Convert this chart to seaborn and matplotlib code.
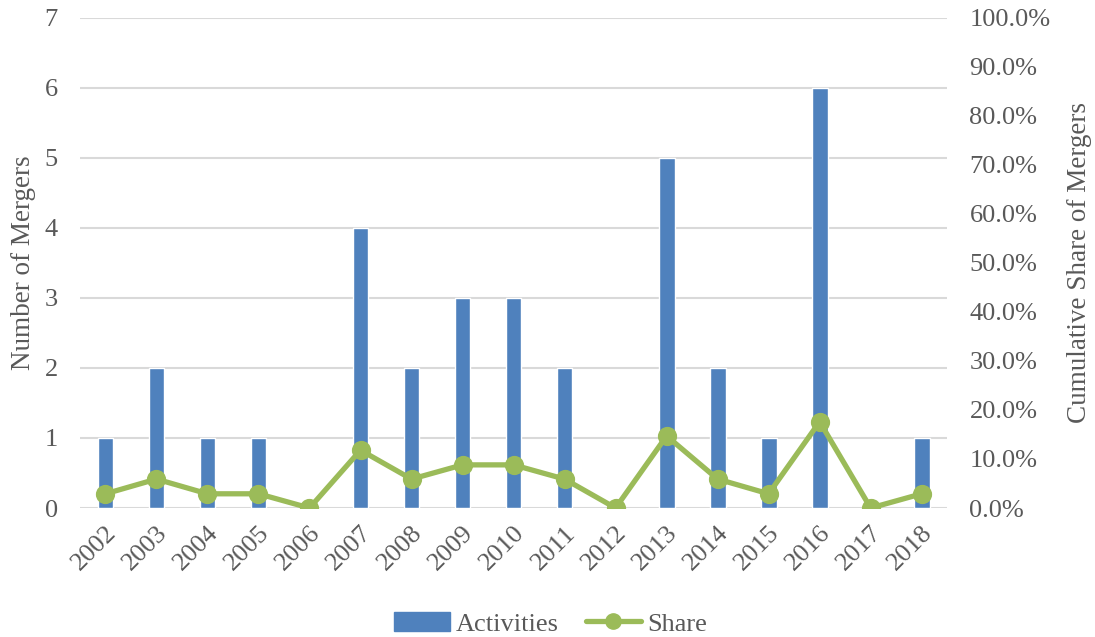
import matplotlib
matplotlib.use("Agg")
import matplotlib.pyplot as plt
import seaborn as sns
from matplotlib.patches import Patch
from matplotlib.lines import Line2D
from matplotlib.ticker import FuncFormatter

# data
years = ["2002", "2003", "2004", "2005", "2006", "2007", "2008", "2009", "2010",
         "2011", "2012", "2013", "2014", "2015", "2016", "2017", "2018"]
activities = [1, 2, 1, 1, 0, 4, 2, 3, 3, 2, 0, 5, 2, 1, 6, 0, 1]
share_pct = [2.9, 5.9, 2.9, 2.9, 0.0, 11.8, 5.9, 8.8, 8.8, 5.9, 0.0, 14.7, 5.9, 2.9, 17.6, 0.0, 2.9]

bar_col = "#4F81BD"
line_col = "#9BBB59"
txt_col = "#595959"

sns.set_style("white")
plt.rcParams["font.family"] = ["Liberation Serif", "DejaVu Serif"]
plt.rcParams["text.color"] = txt_col
plt.rcParams["axes.labelcolor"] = txt_col
plt.rcParams["xtick.color"] = txt_col
plt.rcParams["ytick.color"] = txt_col

fig, ax = plt.subplots(figsize=(10.95, 6.37), dpi=100)
fig.subplots_adjust(left=0.073, right=0.865, top=0.972, bottom=0.2025)

sns.barplot(x=years, y=activities, color=bar_col, width=0.31, saturation=1, ax=ax)
ax.set_ylim(0, 7)
ax.set_xlim(-0.5, len(years) - 0.5)
ax.set_yticks(range(0, 8))
ax.yaxis.grid(True, color="#d9d9d9", linewidth=1.5)
ax.set_axisbelow(True)
ax.set_ylabel("Number of Mergers", fontsize=19.5, labelpad=6)
ax.set_xlabel("")
ax.tick_params(axis="both", length=0, labelsize=19)
ax.tick_params(axis="y", pad=16)
ax.tick_params(axis="x", pad=10)
plt.setp(ax.get_xticklabels(), rotation=45, ha="right", rotation_mode="anchor")
for s in ax.spines.values():
    s.set_visible(False)

ax2 = ax.twinx()
sns.pointplot(x=years, y=share_pct, color=line_col, markers="o", markersize=11,
              linewidth=3.8, ax=ax2)
ax2.set_ylim(0, 100)
ax2.set_xlim(-0.5, len(years) - 0.5)
ax2.set_yticks(range(0, 101, 10))
ax2.yaxis.set_major_formatter(FuncFormatter(lambda v, p: f"{v:.1f}%"))
ax2.set_ylabel("Cumulative Share of Mergers", fontsize=19.5, labelpad=12)
ax2.tick_params(axis="both", length=0, labelsize=19)
ax2.tick_params(axis="y", pad=16)
ax2.grid(False)
for s in ax2.spines.values():
    s.set_visible(False)

handles = [Patch(color=bar_col),
           Line2D([], [], color=line_col, linewidth=3.8, marker="o", markersize=11)]
fig.legend(handles, ["Activities", "Share"], loc="lower center", ncol=2,
           frameon=False, fontsize=19, bbox_to_anchor=(0.503, -0.035),
           handlelength=2.1, handletextpad=0.25, columnspacing=1.0)

fig.savefig("out.png", dpi=100)
